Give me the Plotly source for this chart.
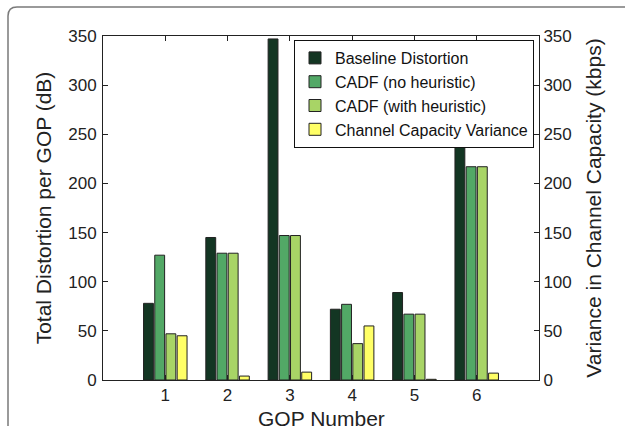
import plotly.graph_objects as go

gop = [1, 2, 3, 4, 5, 6]
baseline = [78, 145, 347, 72, 89, 243]
cadf_no = [127, 129, 147, 77, 67, 217]
cadf_with = [47, 129, 147, 37, 67, 217]
cap_var = [45, 4, 8, 55, 0.7, 7]

names = ["Baseline Distortion", "CADF (no heuristic)", "CADF (with heuristic)", "Channel Capacity Variance"]
colors = ["#133623", "#52a866", "#a8d466", "#ffff66"]

W, H = 625, 426
L, R, T, B = 103, 86, 36, 46
pw, ph = W - L - R, H - T - B

def px(x):
    return (x - L) / pw

def py(y):
    return (H - B - y) / ph

fig = go.Figure()
series = [baseline, cadf_no, cadf_with]
for i, s in enumerate(series):
    fig.add_trace(go.Bar(x=gop, y=s, name=names[i], marker=dict(color=colors[i], line=dict(color="#222222", width=1)),
                         offsetgroup=str(i), alignmentgroup="a", yaxis="y"))
fig.add_trace(go.Bar(x=gop, y=cap_var, name=names[3], marker=dict(color=colors[3], line=dict(color="#222222", width=1)),
                     offsetgroup="3", alignmentgroup="a", yaxis="y2"))

font = "Liberation Sans, Arial, Helvetica, sans-serif"
axcommon = dict(showline=True, linecolor="#222222", linewidth=1, ticks="inside", ticklen=5, tickcolor="#222222",
                showgrid=False, zeroline=False, automargin=False,
                tickfont=dict(size=17, color="#222222", family=font))

fig.update_layout(
    width=W, height=H, margin=dict(l=L, r=R, t=T, b=B, pad=0, autoexpand=False),
    paper_bgcolor="white", plot_bgcolor="white",
    barmode="group", bargap=0.28, bargroupgap=0.12,
    font=dict(family=font, color="#222222"),
    xaxis=dict(range=[0, 7], tickvals=gop, mirror="ticks", **axcommon),
    yaxis=dict(range=[0, 350], dtick=50, ticklabelstandoff=2,
               title=dict(text="Total Distortion per GOP (dB)", font=dict(size=21), standoff=10), **axcommon),
    yaxis2=dict(range=[0, 350], dtick=50, overlaying="y", side="right",
                title=dict(text="Variance in Channel Capacity (kbps)", font=dict(size=21), standoff=15), **axcommon),
    legend=dict(x=px(294), y=py(40), xanchor="left", yanchor="top", bgcolor="white",
                bordercolor="#111111", borderwidth=1, font=dict(size=16, color="#111111"),
                itemwidth=30, tracegroupgap=0, traceorder="normal"),
    showlegend=True,
)

fig.add_annotation(text="GOP Number", xref="paper", yref="paper", x=0.5, y=py(405),
                   xanchor="center", yanchor="top", showarrow=False,
                   font=dict(size=21, color="#222222", family=font))

frame = "M {a},{b} L {a},{c} Q {a},{d} {e},{d} L {f},{d}".format(
    a=px(8), b=py(440), c=py(16), d=py(7), e=px(17), f=px(640))
fig.add_shape(type="path", path=frame, xref="paper", yref="paper", line=dict(color="#7a7a7a", width=1.5))

fig.write_html("out.html")
